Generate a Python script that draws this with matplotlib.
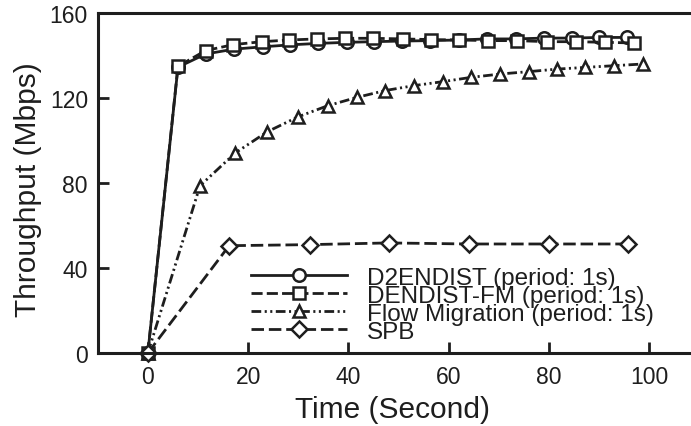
import numpy as np
import matplotlib
matplotlib.use("Agg")
import matplotlib.pyplot as plt

# values
t_d2 = [0, 6, 11.5, 17.2, 23, 28.3, 34, 39.7, 45, 50.7, 56.3, 62, 67.6, 73.3, 78.9, 84.6, 90, 95.5]
v_d2 = [0, 134.5, 140.7, 143, 144.1, 145, 145.7, 146.2, 146.5, 146.8, 147, 147.3, 147.8, 147.8,
        148.2, 148.2, 148.5, 148.5]

t_fm = [0, 6, 11.5, 17, 22.7, 28.2, 33.7, 39.3, 44.9, 50.8, 56.4, 62, 67.9, 73.6, 79.6, 85.4, 91.1, 97]
v_fm = [0, 134.9, 142.3, 145.1, 146.5, 147.3, 147.8, 148.1, 148.1, 147.8, 147.5, 147.3, 147, 147,
        146.5, 146.5, 146.2, 145.9]

t_mig = [0, 10.4, 17.4, 23.8, 30.0, 35.9, 41.7, 47.3, 53, 58.8, 64.4, 70.3, 75.9, 81.6, 87.2, 92.9, 98.7]
v_mig = [0, 78.7, 94.1, 104.1, 111.2, 116.4, 120.3, 123.5, 125.8, 127.7, 129.7, 131.3, 132.4, 133.6,
         134.4, 135.2, 136]

t_spb = [0, 16.2, 32.3, 48, 64, 80, 95.7]
v_spb = [0, 50.5, 51, 51.8, 51.3, 51.3, 51.3]

labels = ["D2ENDIST (period: 1s)", "DENDIST-FM (period: 1s)",
          "Flow Migration (period: 1s)", "SPB"]

ink = "#1e1e1e"
plt.rcParams['font.family'] = ['Liberation Sans', 'DejaVu Sans']
plt.rcParams['lines.scale_dashes'] = False

fig = plt.figure(figsize=(6.91, 4.27), dpi=100)
ax = fig.add_axes([97.7 / 691, 73 / 427, (699.6 - 97.7) / 691, 340 / 427])

common = dict(color=ink, linewidth=2.0, markerfacecolor="white", markeredgecolor=ink,
              markeredgewidth=1.8, clip_on=False)
ax.plot(t_d2, v_d2, linestyle="-", marker="o", markersize=9, label=labels[0], **common)
ax.plot(t_fm, v_fm, linestyle=(0, (8, 3)), marker="s", markersize=8.5, label=labels[1], **common)
ax.plot(t_mig, v_mig, linestyle=(0, (7, 2.5, 1.5, 2.5, 1.5, 2.5)), marker="^", markersize=9,
        label=labels[2], **common)
ax.plot(t_spb, v_spb, linestyle=(0, (9, 3.5)), marker="D", markersize=8.5, label=labels[3], **common)

ax.set_xlim(-10, 110)
ax.set_ylim(0, 160)
ax.set_xticks([0, 20, 40, 60, 80, 100])
ax.set_yticks([0, 40, 80, 120, 160])

for s in ax.spines.values():
    s.set_linewidth(2.2)
    s.set_color(ink)
ax.tick_params(direction="in", length=8, width=2.0, colors=ink, labelsize=16.5,
               labelcolor=ink, top=False, right=False)
ax.tick_params(axis="x", pad=9)
ax.tick_params(axis="y", pad=7)

fig.text(392.5 / 691, (427 - 418.3) / 427, "Time (Second)", fontsize=21.5, color=ink,
         ha="center", va="baseline")
fig.text(28 / 691, 1 - 189.5 / 427, "Throughput (Mbps)", fontsize=21.5, color=ink,
         ha="center", va="center", rotation=90)

# the reference legend rows are packed tighter than the text height
leg = ax.legend(loc="upper left", bbox_to_anchor=(251 / 691, 1 - 267.5 / 427),
                bbox_transform=fig.transFigure, frameon=False, fontsize=17.5,
                handlelength=3.95, handletextpad=0.82, labelspacing=-0.165, borderpad=0,
                borderaxespad=0)
for txt in leg.get_texts():
    txt.set_color(ink)

fig.savefig("out.png", dpi=100)
